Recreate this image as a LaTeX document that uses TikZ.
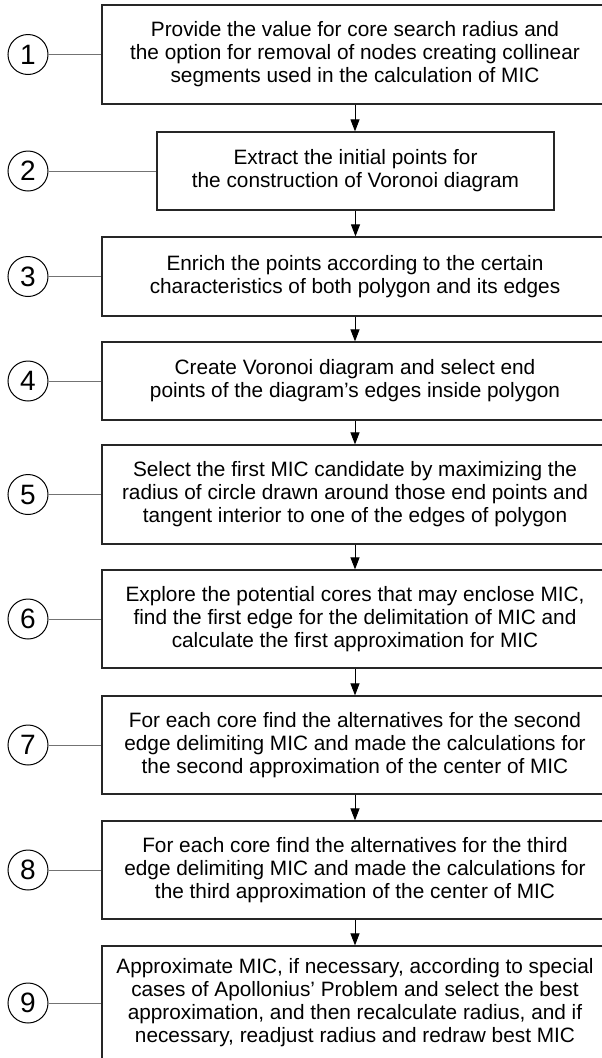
\documentclass[tikz,border=0pt]{standalone}
\usepackage{fontspec}
\setmainfont{Liberation Sans}
\usetikzlibrary{arrows.meta}
\begin{document}
\begin{tikzpicture}[x=1pt,y=-1pt,
  stepbox/.style={draw=black!85, line width=1.2pt, align=center,
    font=\fontsize{20.8}{23}\selectfont, inner sep=0pt, minimum width=506pt},
  narrowbox/.style={stepbox, minimum width=397pt},
  num/.style={circle, draw=black, line width=1pt, minimum size=40pt,
    inner sep=0pt, font=\fontsize{28}{28}\selectfont},
  link/.style={draw=black!55, line width=0.9pt},
  flow/.style={draw=black, line width=1pt, -{Triangle[length=12pt,width=9pt]}}]
\useasboundingbox (0,0) rectangle (602,1058);
\clip (0,0) rectangle (602,1058);
\fill[white] (0,0) rectangle (602,1058);

\node[stepbox, minimum height=99pt] (b1) at (355,54.5)
  {Provide the value for core search radius and\\the option for removal of nodes creating collinear\\segments used in the calculation of MIC};
\node[narrowbox, minimum height=78pt] (b2) at (355.5,171)
  {Extract the initial points for\\the construction of Voronoi diagram};
\node[stepbox, minimum height=79pt] (b3) at (355,276.5)
  {Enrich the points according to the certain\\characteristics of both polygon and its edges};
\node[stepbox, minimum height=78pt] (b4) at (355,381)
  {Create Voronoi diagram and select end\\points of the diagram’s edges inside polygon};
\node[stepbox, minimum height=99pt] (b5) at (355,494.5)
  {Select the first MIC candidate by maximizing the\\radius of circle drawn around those end points and\\tangent interior to one of the edges of polygon};
\node[stepbox, minimum height=98pt] (b6) at (355,619)
  {Explore the potential cores that may enclose MIC,\\find the first edge for the delimitation of MIC and\\calculate the first approximation for MIC};
\node[stepbox, minimum height=98pt] (b7) at (355,745)
  {For each core find the alternatives for the second\\edge delimiting MIC and made the calculations for\\the second approximation of the center of MIC};
\node[stepbox, minimum height=98pt] (b8) at (355,870)
  {For each core find the alternatives for the third\\edge delimiting MIC and made the calculations for\\the third approximation of the center of MIC};
\node[stepbox, minimum height=114pt] (b9) at (355,1003)
  {Approximate MIC, if necessary, according to special\\cases of Apollonius’ Problem and select the best\\approximation, and then recalculate radius, and if\\necessary, readjust radius and redraw best MIC};

\foreach \i/\yy in {1/54.5,2/171,3/276.5,4/381,5/494.5,6/619,7/745,8/870,9/1003}{
  \node[num] (c\i) at (28,\yy) {\i};
  \draw[link] (c\i) -- (b\i);
}

\foreach \a/\b in {b1/b2,b2/b3,b3/b4,b4/b5,b5/b6,b6/b7,b7/b8,b8/b9}{
  \draw[flow] (\a.south) -- (\a.south |- \b.north);
}
\end{tikzpicture}
\end{document}
